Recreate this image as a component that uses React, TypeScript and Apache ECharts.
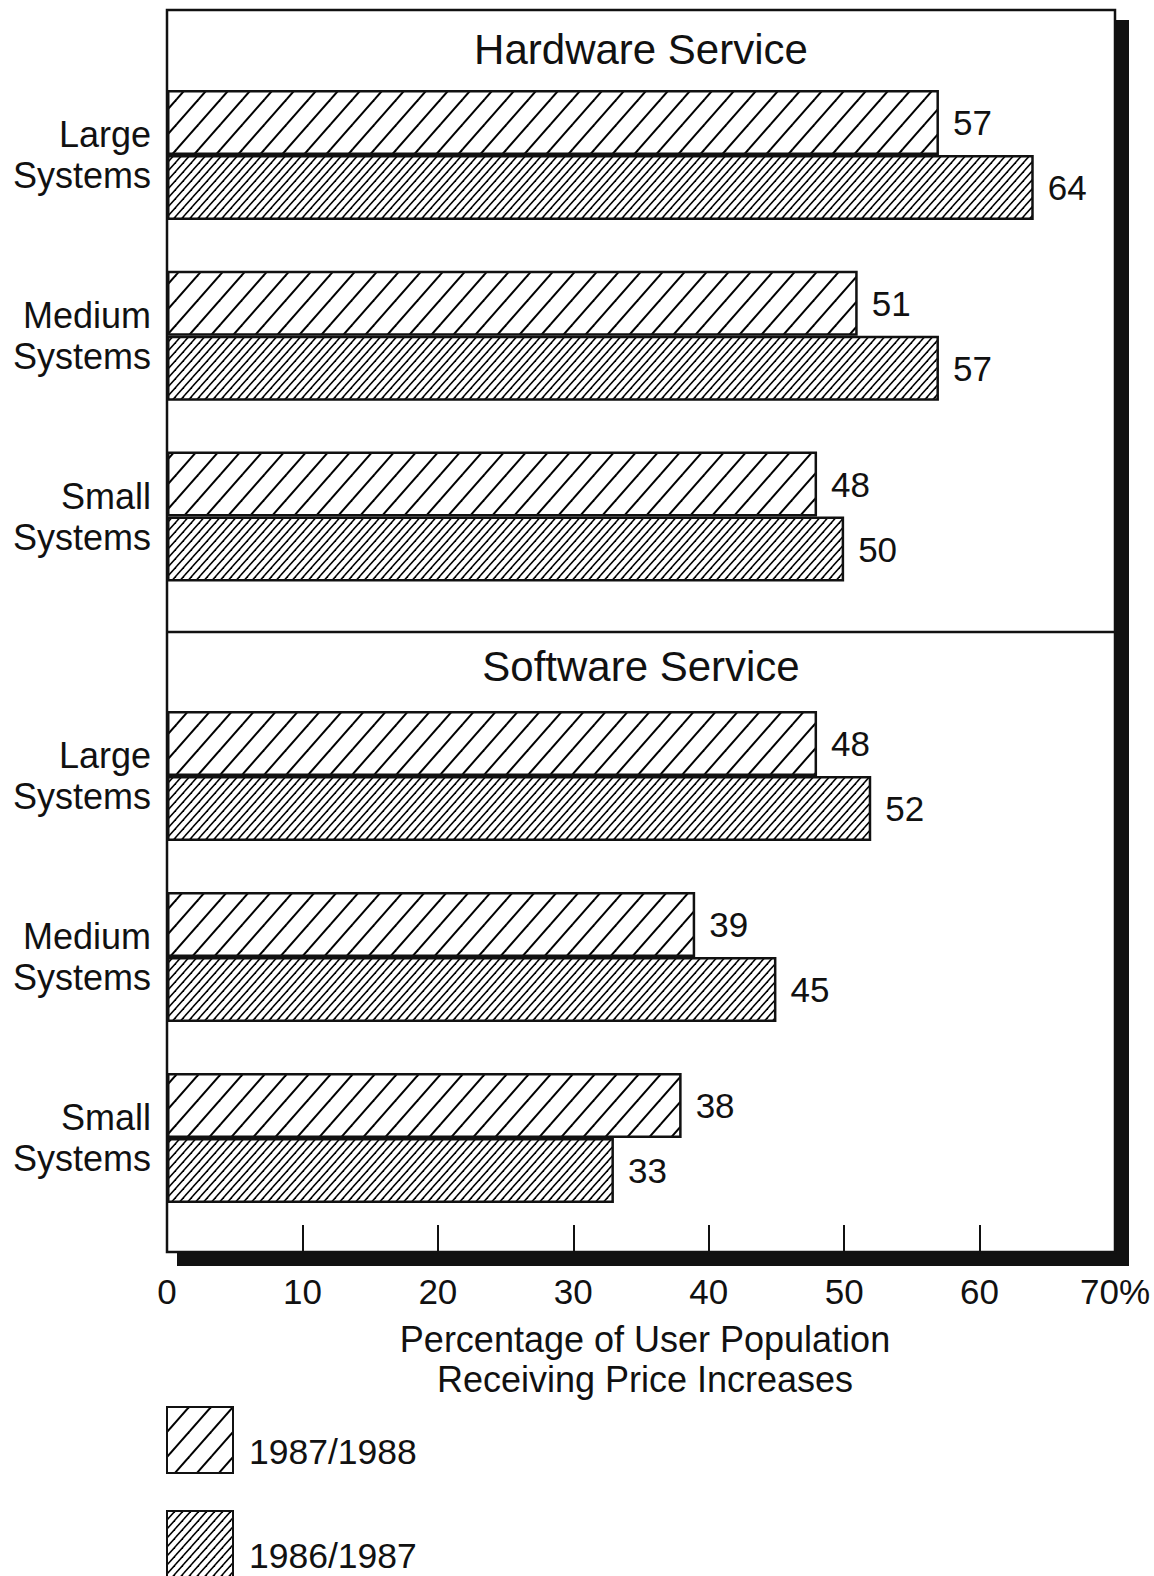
import React, { useEffect, useRef } from "react";
import * as echarts from "echarts";

const categories = ["Large\nSystems", "Medium\nSystems", "Small\nSystems"];
const seriesNames = ["1987/1988", "1986/1987"];
const hardware8788 = [57, 51, 48];
const hardware8687 = [64, 57, 50];
const software8788 = [48, 39, 38];
const software8687 = [52, 45, 33];
const xTicks = [0, 10, 20, 30, 40, 50, 60, 70];
const panelTitles = ["Hardware Service", "Software Service"];
const xAxisTitle = "Percentage of User Population\nReceiving Price Increases";

const FONT = "'Liberation Sans', Arial, Helvetica, sans-serif";
const INK = "#111";

function hatch(w: number, h: number, sw: number) {
  let lines = "";
  for (const k of [-1, 0, 1]) {
    const x1 = k * w - w, y1 = 2 * h, x2 = k * w + 2 * w, y2 = -h;
    lines += `<line x1='${x1}' y1='${y1}' x2='${x2}' y2='${y2}'/>`;
  }
  const svg = `<svg xmlns='http://www.w3.org/2000/svg' width='${w}' height='${h}'><rect width='${w}' height='${h}' fill='white'/><g stroke='black' stroke-width='${sw}'>${lines}</g></svg>`;
  return {
    image: "data:image/svg+xml;charset=utf-8," + encodeURIComponent(svg),
    repeat: "repeat",
    imageWidth: w,
    imageHeight: h,
  } as any;
}

export default function App() {
  const ref = useRef<HTMLDivElement>(null);
  useEffect(() => {
    document.body.style.margin = "0";
    document.body.style.overflow = "hidden";
    if (!ref.current) return;
    const chart = echarts.init(ref.current, undefined, { renderer: "svg" });
    const sparse = hatch(22, 25, 2);
    const dense = hatch(8, 9, 1.5);
    const fills = [sparse, dense];

    const L = 167, R = 1115, T = 10, B = 1252, MID = 632;

    const barSeries = (name: string, data: number[], idx: number, fill: any) => ({
      type: "bar",
      name,
      xAxisIndex: idx,
      yAxisIndex: idx,
      data,
      barWidth: 65,
      barGap: "0%",
      itemStyle: { color: fill, borderColor: INK, borderWidth: 2.5 },
      label: {
        show: true,
        position: "right",
        distance: 14,
        color: INK,
        fontSize: 35,
        fontFamily: FONT,
      },
    });

    const yAxisCommon = {
      type: "category",
      data: categories,
      inverse: true,
      axisLine: { show: false },
      axisTick: { show: false },
      axisLabel: {
        color: INK,
        fontSize: 36,
        lineHeight: 41,
        fontFamily: FONT,
        margin: 16,
        align: "right",
      },
    };

    const legendFor = (name: string, top: number) => ({
      orient: "vertical",
      left: 166,
      top,
      padding: 0,
      itemWidth: 66,
      itemHeight: 66,
      icon: "rect",
      data: [name],
      formatter: (n: string) => `{t|${n}}`,
      textStyle: {
        color: INK,
        fontSize: 35,
        fontFamily: FONT,
        rich: { t: { color: INK, fontSize: 35.5, fontFamily: FONT, padding: [24, 0, 0, 11] } },
      },
    });

    chart.setOption({
      animation: false,
      backgroundColor: "#fff",
      grid: [
        { left: L, right: 1154 - R, top: 64.5, height: 542.5 },
        { left: L, right: 1154 - R, top: 685.5, height: 543 },
      ],
      xAxis: [
        { gridIndex: 0, type: "value", min: 0, max: 70, interval: 10, show: false },
        {
          gridIndex: 1,
          type: "value",
          min: 0,
          max: 70,
          interval: 10,
          offset: B - 1228.5,
          splitLine: { show: false },
          axisLine: { show: false },
          axisTick: { show: true, inside: true, length: 27, lineStyle: { color: INK, width: 2 } },
          axisLabel: {
            color: INK,
            fontSize: 35,
            fontFamily: FONT,
            margin: 22,
            formatter: (v: number) => (v === xTicks[xTicks.length - 1] ? v + "%" : String(v)),
          },
        },
      ],
      yAxis: [
        { gridIndex: 0, ...yAxisCommon },
        { gridIndex: 1, ...yAxisCommon },
      ],
      legend: [legendFor(seriesNames[0], 1406), legendFor(seriesNames[1], 1510)],
      graphic: [
        { type: "rect", shape: { x: R + 1, y: T + 10, width: 13, height: B - T + 4 }, style: { fill: INK }, silent: true },
        { type: "rect", shape: { x: L + 10, y: B + 1, width: R - L + 4, height: 13 }, style: { fill: INK }, silent: true },
        { type: "rect", shape: { x: L, y: T, width: R - L, height: B - T }, style: { fill: "transparent", stroke: INK, lineWidth: 2.5 }, silent: true },
        { type: "line", shape: { x1: L, y1: MID, x2: R, y2: MID }, style: { stroke: INK, lineWidth: 2.5 }, silent: true },
        { type: "text", x: (L + R) / 2, y: 49, style: { text: panelTitles[0], fill: INK, font: `42px ${FONT}`, align: "center", verticalAlign: "middle" } },
        { type: "text", x: (L + R) / 2, y: 666, style: { text: panelTitles[1], fill: INK, font: `42px ${FONT}`, align: "center", verticalAlign: "middle" } },
        { type: "text", x: 645, y: 1359, style: { text: xAxisTitle, fill: INK, font: `36px ${FONT}`, lineHeight: 40, align: "center", verticalAlign: "middle" } },
      ],
      series: [
        barSeries(seriesNames[0], hardware8788, 0, fills[0]),
        barSeries(seriesNames[1], hardware8687, 0, fills[1]),
        barSeries(seriesNames[0], software8788, 1, fills[0]),
        barSeries(seriesNames[1], software8687, 1, fills[1]),
      ],
    } as any);
    return () => chart.dispose();
  }, []);
  return <div ref={ref} style={{ width: 1154, height: 1576 }} />;
}
